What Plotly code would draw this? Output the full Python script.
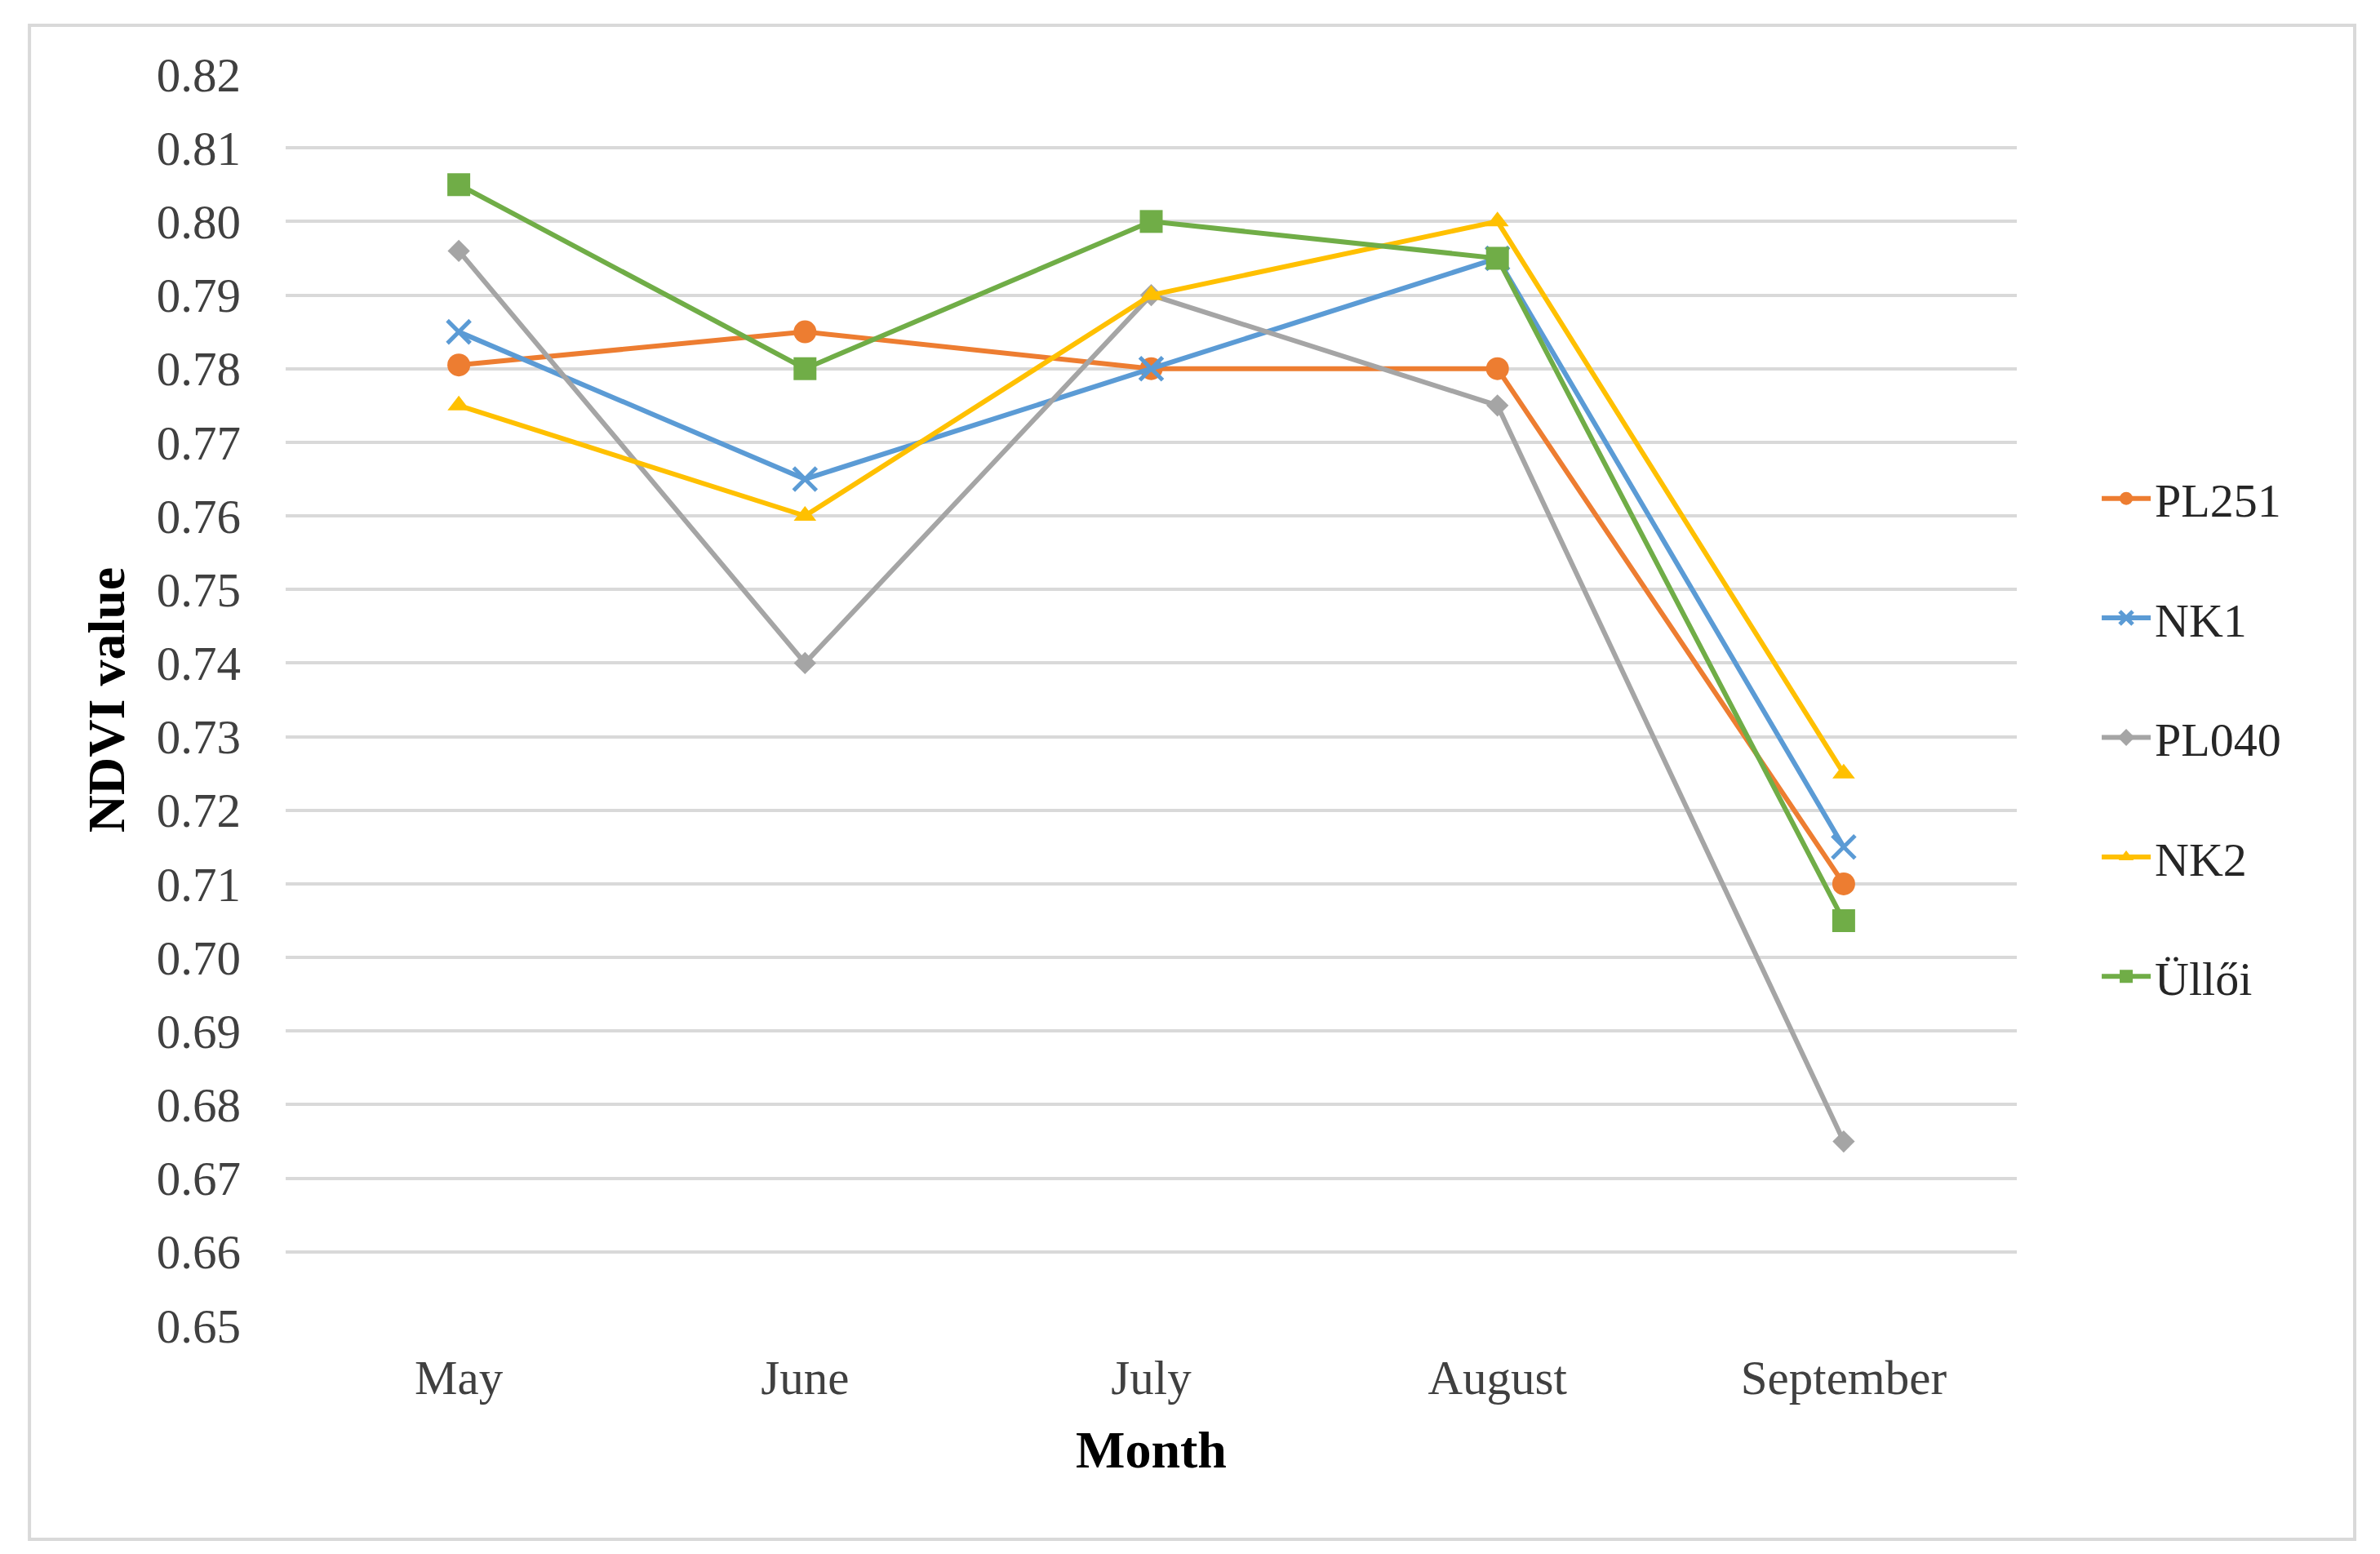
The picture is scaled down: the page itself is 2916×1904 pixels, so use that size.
import plotly.graph_objects as go

months = ["May", "June", "July", "August", "September"]
pl251 = [0.7805, 0.785, 0.780, 0.780, 0.710]
nk1 = [0.785, 0.765, 0.780, 0.795, 0.715]
pl040 = [0.796, 0.740, 0.790, 0.775, 0.675]
nk2 = [0.775, 0.760, 0.790, 0.800, 0.725]
ulloi = [0.805, 0.780, 0.800, 0.795, 0.705]

series_names = ["PL251", "NK1", "PL040", "NK2", "Üllői"]
series_values = [pl251, nk1, pl040, nk2, ulloi]
colors = ["#ED7D31", "#5B9BD5", "#A5A5A5", "#FFC000", "#70AD47"]
symbols = ["circle", "x-thin-open", "diamond", "triangle-up", "square"]
marker_sizes = [28, 28, 21, 24, 28]
y_ticks = [round(0.65 + 0.01 * i, 2) for i in range(18)]

FONT = "Liberation Serif"

fig = go.Figure()
for name, vals, col, sym, ms in zip(series_names, series_values, colors, symbols, marker_sizes):
    marker = dict(symbol=sym, size=ms, color=col)
    if sym == "x-thin-open":
        marker["line"] = dict(width=5, color=col)
    fig.add_trace(go.Scatter(
        x=months, y=vals, name=name, mode="lines+markers",
        line=dict(color=col, width=6), marker=marker,
        legendgroup=name,
    ))

fig.update_layout(
    width=2916, height=1904,
    margin=dict(l=342, r=453, t=83, b=288),
    paper_bgcolor="white", plot_bgcolor="white",
    font=dict(family=FONT, size=58, color="#404040"),
    showlegend=True,
    legend=dict(
        x=1.0467, y=0.47, xanchor="left", yanchor="middle",
        font=dict(family=FONT, size=58, color="#262626"),
        tracegroupgap=68, itemwidth=60, bgcolor="rgba(0,0,0,0)",
    ),
    xaxis=dict(
        type="category", range=[-0.5, 4.5], showgrid=False, zeroline=False,
        showline=False, ticks="", ticklabelstandoff=24,
        tickfont=dict(family=FONT, size=59, color="#404040"),
        title=dict(text="<b>Month</b>", font=dict(family=FONT, size=64, color="#000000"),
                   standoff=33),
    ),
    yaxis=dict(
        range=[0.65, 0.82], tickvals=y_ticks, ticktext=[f"{v:.2f}" for v in y_ticks],
        showgrid=True, gridcolor="#D9D9D9", gridwidth=4, zeroline=False,
        showline=False, ticks="", ticklabelstandoff=54,
        tickfont=dict(family=FONT, size=59, color="#404040"),
        title=dict(text="<b>NDVI value</b>", font=dict(family=FONT, size=64, color="#000000"),
                   standoff=18),
    ),
    shapes=[dict(
        type="rect", xref="paper", yref="paper",
        x0=-0.148, x1=1.1952, y0=-0.1709, y1=1.0391,
        line=dict(color="#D9D9D9", width=4), fillcolor="rgba(0,0,0,0)", layer="below",
    )],
)

fig.write_html("out.html")
